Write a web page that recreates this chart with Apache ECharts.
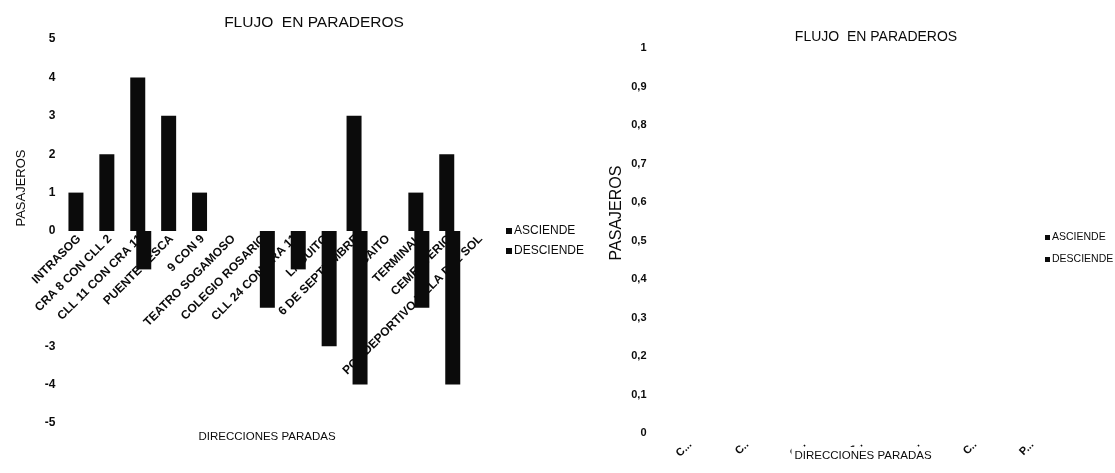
<!DOCTYPE html>
<html>
<head>
<meta charset="utf-8">
<script src="https://cdn.jsdelivr.net/npm/echarts@6/dist/echarts.min.js"></script>
<style>
  html, body { margin: 0; padding: 0; background: #fff; }
  #chart { width: 1115px; height: 473px; }
</style>
</head>
<body>
<div id="chart"></div>
<script>
// Flujo de pasajeros por paradero (ruta Sogamoso)
const paradas = [
  'INTRASOG', 'CRA 8 CON CLL 2', 'CLL 11 CON CRA 11', 'PUENTE PESCA', '9 CON 9',
  'TEATRO SOGAMOSO', 'COLEGIO ROSARIO', 'CLL 24 CON CRA 11', 'LAGUITO',
  '6 DE SEPTIEMBRE', 'CAITO', 'TERMINAL', 'CEMENTERIO', 'POLIDEPORTIVO VILLA DEL SOL'
];
const asciende = [1, 2, 4, 3, 1, 0, 0, 0, 0, 3, 0, 1, 2, 0];
const desciende = [0, 0, -1, 0, 0, 0, -2, -1, -3, -4, 0, -2, -4, 0];

// Marcas del eje vertical izquierdo (las de -1 y -2 quedan sin texto)
const valoresEjeIzq = [5, 4, 3, 2, 1, 0, -1, -2, -3, -4, -5];
const etiquetasEjeIzq = ['5', '4', '3', '2', '1', '0', '', '', '-3', '-4', '-5'];

// Segundo grafico: sin registros
const paradasDer = ['C...', 'C..', 'C...', 'C..', 'C...', 'C..', 'P...'];
const asciendeDer = [0, 0, 0, 0, 0, 0, 0];
const desciendeDer = [0, 0, 0, 0, 0, 0, 0];

const SANS = "'Liberation Sans', Arial, sans-serif";
const INK = '#0b0b0b';

// Area de barras del primer grafico: eje vertical de -5 a 5
const G1 = { left: 63.5, top: 39, width: 432.6, height: 384 };
// Franja superior hasta la linea de cero, donde se apoyan los nombres de paradero
const zeroFrac = 5 / 10;

const chart = echarts.init(document.getElementById('chart'), null, { renderer: 'canvas' });

chart.setOption({
  backgroundColor: '#fff',
  animation: false,
  textStyle: { fontFamily: SANS },
  title: [
    { text: 'FLUJO  EN PARADEROS', left: 309, top: 10, textAlign: 'center',
      textStyle: { fontFamily: SANS, fontSize: 15.5, fontWeight: 'normal', color: INK } },
    { text: 'DIRECCIONES PARADAS', left: 262, top: 426, textAlign: 'center',
      textStyle: { fontFamily: SANS, fontSize: 11.5, fontWeight: 'normal', color: INK } },
    { text: 'FLUJO  EN PARADEROS', left: 871, top: 25, textAlign: 'center',
      textStyle: { fontFamily: SANS, fontSize: 14, fontWeight: 'normal', color: INK } },
    { text: 'DIRECCIONES PARADAS', left: 860, top: 447, textAlign: 'center',
      backgroundColor: '#fff', padding: [3, 3, 8, 3],
      textStyle: { fontFamily: SANS, fontSize: 11.5, fontWeight: 'normal', color: INK } }
  ],
  graphic: [
    { type: 'text', x: 21, y: 188, rotation: Math.PI / 2,
      style: { text: 'PASAJEROS', fontFamily: SANS, fontSize: 13, fill: INK,
               align: 'center', verticalAlign: 'middle' } },
    { type: 'text', x: 617, y: 213, rotation: Math.PI / 2,
      style: { text: 'PASAJEROS', fontFamily: SANS, fontSize: 16, fill: INK,
               align: 'center', verticalAlign: 'middle' } }
  ],
  legend: [
    { orient: 'vertical', left: 501, top: 220, itemWidth: 6, itemHeight: 6, itemGap: 8,
      icon: 'rect', data: ['ASCIENDE', 'DESCIENDE'],
      textStyle: { fontFamily: SANS, fontSize: 12, color: INK, padding: [0, 0, 0, -3] } },
    { orient: 'vertical', left: 1040, top: 227, itemWidth: 5, itemHeight: 5, itemGap: 11,
      icon: 'rect', data: ['ASCIENDE', 'DESCIENDE'],
      textStyle: { fontFamily: SANS, fontSize: 10.5, color: INK, padding: [0, 0, 0, -3] } }
  ],
  grid: [
    { left: G1.left, top: G1.top, width: G1.width, height: G1.height,
      containLabel: false, outerBoundsMode: 'none' },
    { left: 661.5, top: 48, width: 399, height: 385, containLabel: false, outerBoundsMode: 'none' },
    { left: G1.left, top: G1.top, width: G1.width, height: G1.height * zeroFrac,
      containLabel: false, outerBoundsMode: 'none' }
  ],
  xAxis: [
    { type: 'category', gridIndex: 0, data: paradas,
      axisLine: { show: false }, axisTick: { show: false }, splitLine: { show: false },
      axisLabel: { show: false } },
    { type: 'category', gridIndex: 1, data: paradasDer,
      axisLine: { show: false }, axisTick: { show: false }, splitLine: { show: false },
      axisLabel: { interval: 0, rotate: 45, margin: 10, fontFamily: SANS,
                   fontSize: 11, fontWeight: 'bold', color: INK } },
    { type: 'category', gridIndex: 2, data: paradas, position: 'bottom',
      axisLine: { show: false }, axisTick: { show: false }, splitLine: { show: false },
      axisLabel: { interval: 0, rotate: 45, margin: 6, fontFamily: SANS,
                   fontSize: 12, fontWeight: 'bold', color: INK } }
  ],
  yAxis: [
    { type: 'value', gridIndex: 0, min: -5, max: 5, interval: 1,
      axisLine: { show: false }, axisTick: { show: false }, splitLine: { show: false },
      axisLabel: { margin: 8, fontFamily: SANS, fontSize: 12, fontWeight: 'bold', color: INK,
                   formatter: v => { const i = valoresEjeIzq.indexOf(Math.round(v));
                                     return i >= 0 ? etiquetasEjeIzq[i] : ''; } } },
    { type: 'value', gridIndex: 1, min: 0, max: 1, interval: 0.1,
      axisLine: { show: false }, axisTick: { show: false }, splitLine: { show: false },
      axisLabel: { margin: 15, fontFamily: SANS, fontSize: 11, fontWeight: 'bold', color: INK,
                   formatter: v => String(+v.toFixed(1)).replace('.', ',') } },
    { type: 'value', gridIndex: 2, min: 0, max: 5, show: false }
  ],
  series: [
    { name: 'ASCIENDE', type: 'bar', xAxisIndex: 0, yAxisIndex: 0, data: asciende,
      barWidth: 15, barGap: '-60%', itemStyle: { color: INK } },
    { name: 'DESCIENDE', type: 'bar', xAxisIndex: 0, yAxisIndex: 0, data: desciende,
      barWidth: 15, barGap: '-60%', itemStyle: { color: INK } },
    { name: 'ASCIENDE', type: 'bar', xAxisIndex: 1, yAxisIndex: 1, data: asciendeDer,
      barWidth: 15, barGap: '-60%', itemStyle: { color: INK } },
    { name: 'DESCIENDE', type: 'bar', xAxisIndex: 1, yAxisIndex: 1, data: desciendeDer,
      barWidth: 15, barGap: '-60%', itemStyle: { color: INK } }
  ]
});
</script>
</body>
</html>
